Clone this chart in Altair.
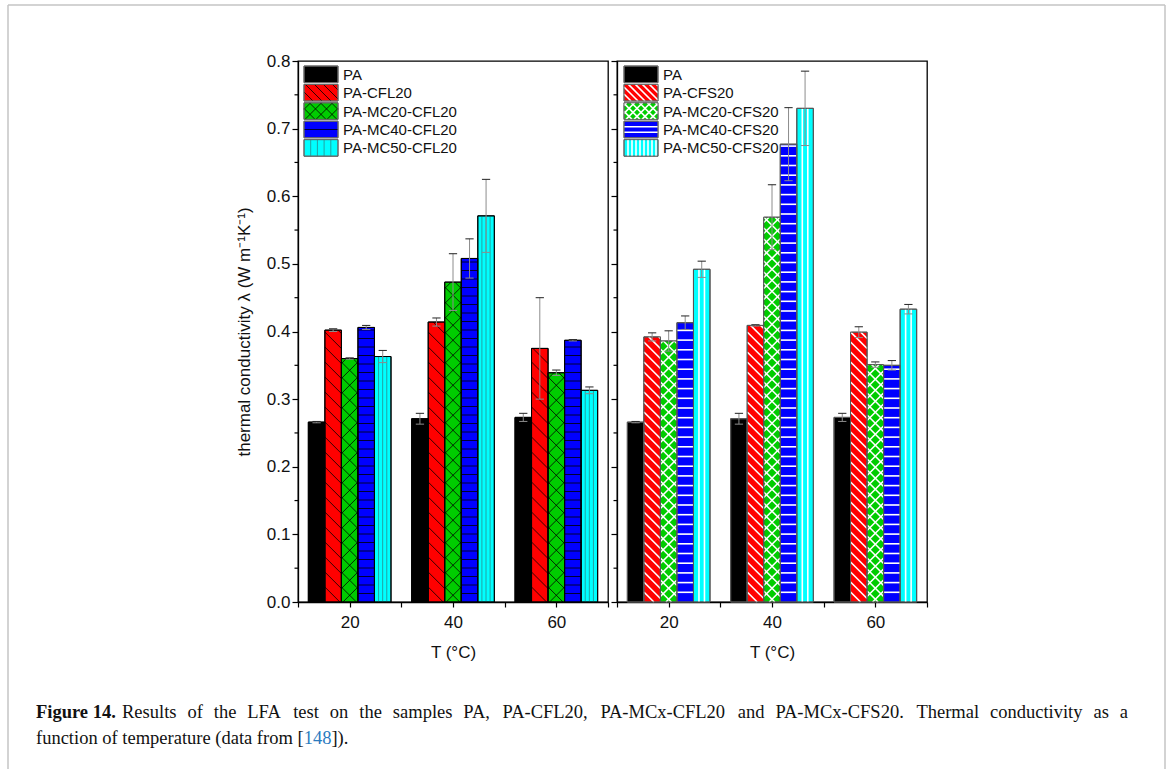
import altair as alt
import pandas as pd

# ---------------------------------------------------------------- data
temperatures = [20, 40, 60]

series_cfl = ["PA", "PA-CFL20", "PA-MC20-CFL20", "PA-MC40-CFL20", "PA-MC50-CFL20"]
series_cfs = ["PA", "PA-CFS20", "PA-MC20-CFS20", "PA-MC40-CFS20", "PA-MC50-CFS20"]

pa_mean = [0.266, 0.271, 0.273]
pa_err = [0.001, 0.008, 0.006]

cfl20_mean = [0.402, 0.414, 0.375]
cfl20_err = [0.002, 0.006, 0.075]
mc20_cfl20_mean = [0.360, 0.473, 0.339]
mc20_cfl20_err = [0.001, 0.042, 0.004]
mc40_cfl20_mean = [0.406, 0.508, 0.387]
mc40_cfl20_err = [0.003, 0.029, 0.001]
mc50_cfl20_mean = [0.363, 0.571, 0.313]
mc50_cfl20_err = [0.009, 0.054, 0.005]

cfs20_mean = [0.392, 0.409, 0.399]
cfs20_err = [0.006, 0.001, 0.008]
mc20_cfs20_mean = [0.386, 0.569, 0.351]
mc20_cfs20_err = [0.015, 0.048, 0.004]
mc40_cfs20_mean = [0.413, 0.677, 0.350]
mc40_cfs20_err = [0.010, 0.054, 0.007]
mc50_cfs20_mean = [0.492, 0.730, 0.433]
mc50_cfs20_err = [0.012, 0.055, 0.007]

y_ticks = [0.0, 0.1, 0.2, 0.3, 0.4, 0.5, 0.6, 0.7, 0.8]
y_minor_ticks = [0.05, 0.15, 0.25, 0.35, 0.45, 0.55, 0.65, 0.75]
x_ticks = [10, 20, 30, 40, 50, 60, 70]

caption_bold = "Figure 14."
caption_line1 = ("Results of the LFA test on the samples PA, PA-CFL20, PA-MCx-CFL20 and "
                 "PA-MCx-CFS20. Thermal conductivity as a")
caption_line2 = ["function of temperature (data from [", "148", "])."]

# ---------------------------------------------------------------- layout / style
W, H = 310, 541
X_DOMAIN = [10, 70]
Y_DOMAIN = [0.0, 0.8]
SX = W / (X_DOMAIN[1] - X_DOMAIN[0])   # px per degree
SY = H / (Y_DOMAIN[1] - Y_DOMAIN[0])   # px per unit of conductivity
BAR_W = 3.2                             # bar width in degrees
CAP_HALF = 0.8                          # half width of error caps in degrees
SANS = "Liberation Sans"
SERIF = "Liberation Serif"

COLORS = ["#000000", "#ff0000", "#00cc00", "#0000ff", "#00ffff"]
PATTERNS = [None, "back", "cross", "horiz", "vert"]

STYLE_CFL = dict(
    outline="#000000",
    line_colors=["#000000", "#000000", "#000000", "#000000", "#2a8c8c"],
    line_width=0.8,
    bar_steps=[0, 15, 15, 8.5, 4.1],
    legend_steps=[0, 9, 11, 8.3, 6.7],
    legend_x=6,
)
STYLE_CFS = dict(
    outline="#555555",
    line_colors=["#ffffff"] * 5,
    line_width=1.6,
    bar_steps=[0, 10, 11, 9.7, 5.5],
    legend_steps=[0, 7, 8, 5.5, 4],
    legend_x=7,
)

# advance widths of the serif caption face (units per em / 1000)
SERIF_W = {" ": 250, ",": 250, ".": 250, "-": 333, "(": 333, ")": 333, "[": 333, "]": 333}
SERIF_W.update({d: 500 for d in "0123456789"})
SERIF_W.update(dict(zip("ABCDEFGHIJKLMNOPQRSTUVWXYZ",
                        [722, 667, 667, 722, 611, 556, 722, 722, 333, 389, 722, 611, 889,
                         722, 722, 556, 722, 667, 556, 611, 722, 722, 944, 722, 722, 611])))
SERIF_W.update(dict(zip("abcdefghijklmnopqrstuvwxyz",
                        [444, 500, 444, 500, 444, 333, 500, 500, 278, 278, 500, 278, 778,
                         500, 500, 500, 500, 333, 389, 278, 500, 500, 722, 500, 500, 444])))


def serif_width(s, size):
    return sum(SERIF_W.get(ch, 500) for ch in s) * size / 1000.0


xs = alt.Scale(domain=X_DOMAIN, nice=False, zero=False)
ys = alt.Scale(domain=Y_DOMAIN, nice=False, zero=False)


def hatch_segments(kind, bw, bh, step):
    """Line segments (u0, h0, u1, h1) in local px of a bw x bh box, h measured upward."""
    segs = []
    if kind is None or step <= 0:
        return segs
    kinds = ["back", "fwd"] if kind == "cross" else [kind]
    for k in kinds:
        if k == "back":          # u + h = c
            c = step
            while c < bw + bh:
                u0, u1 = max(0.0, c - bh), min(bw, c)
                if u1 - u0 > 0.3:
                    segs.append((u0, c - u0, u1, c - u1))
                c += step
        elif k == "fwd":         # h - u = c
            c = -bw + step
            while c < bh:
                u0, u1 = max(0.0, -c), min(bw, bh - c)
                if u1 - u0 > 0.3:
                    segs.append((u0, u0 + c, u1, u1 + c))
                c += step
        elif k == "horiz":
            h = step
            while h < bh - 0.5:
                segs.append((0.0, h, bw, h))
                h += step
        elif k == "vert":
            u = step
            while u < bw - 0.5:
                segs.append((u, 0.0, u, bh))
                u += step
    return segs


def caption_layers(ox, oy):
    """Caption text below the panels; ox, oy = page position of the panel's plot origin."""
    one = pd.DataFrame({"k": [0]})
    size = 18.5
    base = dict(font=SERIF, fontSize=size, baseline="middle", align="left", color="#111111")
    out = [alt.Chart(one).mark_text(fontWeight="bold", **base).encode(
        x=alt.value(35 - ox), y=alt.value(712 - oy), text=alt.value(caption_bold))]
    # justified first line
    words = caption_line1.split(" ")
    widths = [serif_width(w, size) for w in words]
    start, end = 121, 1127
    gap = (end - start - sum(widths)) / (len(words) - 1)
    rows, x = [], start
    for w, wd in zip(words, widths):
        rows.append(dict(px=x - ox, word=w))
        x += wd + gap
    out.append(alt.Chart(pd.DataFrame(rows)).mark_text(**base).encode(
        x=alt.X("px:Q", scale=None, axis=None), y=alt.value(712 - oy), text="word:N"))
    # second line, reference number in link colour
    x = 35
    for i, part in enumerate(caption_line2):
        col = "#2b7bbf" if i == 1 else "#111111"
        out.append(alt.Chart(one).mark_text(**dict(base, color=col)).encode(
            x=alt.value(x - ox), y=alt.value(738 - oy), text=alt.value(part)))
        x += serif_width(part, size)
    return out


def build_panel(series, means, errs, style, left, origin):
    bar_rows, hatch_rows = [], []
    for i, name in enumerate(series):
        for j, t in enumerate(temperatures):
            c = t + (i - 2) * BAR_W
            m, e = means[i][j], errs[i][j]
            bar_rows.append(dict(series=name, mean=m, base=0.0, x0=c - BAR_W / 2, x1=c + BAR_W / 2,
                                 center=c, lo=m - e, hi=m + e, cap0=c - CAP_HALF, cap1=c + CAP_HALF,
                                 color=COLORS[i]))
            for (u0, h0, u1, h1) in hatch_segments(PATTERNS[i], BAR_W * SX, m * SY, style["bar_steps"][i]):
                x0 = c - BAR_W / 2
                hatch_rows.append(dict(xa=x0 + u0 / SX, ya=h0 / SY, xb=x0 + u1 / SX, yb=h1 / SY,
                                       lc=style["line_colors"][i]))
    bar_df = pd.DataFrame(bar_rows)
    hatch_df = pd.DataFrame(hatch_rows)

    # legend in pixel space (relative to the plot's top-left corner)
    lx, sw, sh, row, top0 = style["legend_x"], 34, 16.6, 18.4, 5
    leg_rows, leg_hatch, leg_text = [], [], []
    for i, name in enumerate(series):
        top = top0 + i * row
        leg_rows.append(dict(px0=lx, px1=lx + sw, py0=top, py1=top + sh, color=COLORS[i]))
        leg_text.append(dict(tx=lx + sw + 5, ty=top + sh / 2 + 0.5, label=name))
        for (u0, h0, u1, h1) in hatch_segments(PATTERNS[i], sw, sh, style["legend_steps"][i]):
            leg_hatch.append(dict(qa=lx + u0, ra=top + sh - h0, qb=lx + u1, rb=top + sh - h1,
                                  lc=style["line_colors"][i]))
    leg_df = pd.DataFrame(leg_rows)
    leg_hatch_df = pd.DataFrame(leg_hatch)
    leg_text_df = pd.DataFrame(leg_text)

    x_axis = alt.Axis(values=x_ticks, format="d",
                      labelExpr="datum.value % 20 === 0 ? datum.label : ''",
                      tickSize=5, labelPadding=7, labelFontSize=17, labelFont=SANS,
                      title="T (°C)", titleFontSize=17, titleFont=SANS, titleFontWeight="normal",
                      titlePadding=14, grid=False, labelColor="#111111", titleColor="#111111")
    if left:
        y_axis = alt.Axis(values=y_ticks, format=".1f", tickSize=6, labelPadding=2,
                          labelFontSize=17, labelFont=SANS, labelColor="#111111",
                          title="thermal conductivity  λ (W m⁻¹K⁻¹)", titleFontSize=17,
                          titleFont=SANS, titleFontWeight="normal", titleColor="#111111",
                          titlePadding=13, grid=False)
    else:
        y_axis = alt.Axis(values=y_ticks, labels=False, tickSize=6, title=None, grid=False)

    def X(f):
        return alt.X(f, scale=xs, axis=x_axis)

    def Y(f):
        return alt.Y(f, scale=ys, axis=y_axis)

    bars = alt.Chart(bar_df).mark_rect(stroke=style["outline"], strokeWidth=1).encode(
        x=X("x0:Q"), x2="x1", y=Y("mean:Q"), y2="base",
        color=alt.Color("color:N", scale=None),
    )
    hatch = alt.Chart(hatch_df).mark_rule(strokeWidth=style["line_width"]).encode(
        x=X("xa:Q"), x2="xb", y=Y("ya:Q"), y2="yb",
        color=alt.Color("lc:N", scale=None),
    )
    outline = alt.Chart(bar_df).mark_rect(fill=None, stroke=style["outline"], strokeWidth=1).encode(
        x=X("x0:Q"), x2="x1", y=Y("mean:Q"), y2="base",
    )
    err_line = alt.Chart(bar_df).mark_rule(color="#8c8c8c", strokeWidth=1).encode(
        x=X("center:Q"), y=Y("lo:Q"), y2="hi",
    )
    cap_top = alt.Chart(bar_df).mark_rule(color="#222222", strokeWidth=1).encode(
        x=X("cap0:Q"), x2="cap1", y=Y("hi:Q"),
    )
    cap_bot = alt.Chart(bar_df).mark_rule(color="#8c8c8c", strokeWidth=1).encode(
        x=X("cap0:Q"), x2="cap1", y=Y("lo:Q"),
    )
    minor = alt.Chart(pd.DataFrame({"v": y_minor_ticks})).mark_rule(color="black", strokeWidth=1.2).encode(
        x=alt.value(-3.5), x2=alt.value(0), y=Y("v:Q"),
    )
    leg_box = alt.Chart(leg_df).mark_rect(stroke="#666666", strokeWidth=1).encode(
        x=alt.X("px0:Q", scale=None, axis=None), x2="px1",
        y=alt.Y("py0:Q", scale=None, axis=None), y2="py1",
        color=alt.Color("color:N", scale=None),
    )
    leg_lines = alt.Chart(leg_hatch_df).mark_rule(strokeWidth=style["line_width"]).encode(
        x=alt.X("qa:Q", scale=None, axis=None), x2="qb",
        y=alt.Y("ra:Q", scale=None, axis=None), y2="rb",
        color=alt.Color("lc:N", scale=None),
    )
    leg_frame = alt.Chart(leg_df).mark_rect(fill=None, stroke="#666666", strokeWidth=1).encode(
        x=alt.X("px0:Q", scale=None, axis=None), x2="px1",
        y=alt.Y("py0:Q", scale=None, axis=None), y2="py1",
    )
    leg_lbl = alt.Chart(leg_text_df).mark_text(align="left", baseline="middle", font=SANS,
                                               fontSize=15, color="#111111").encode(
        x=alt.X("tx:Q", scale=None, axis=None),
        y=alt.Y("ty:Q", scale=None, axis=None),
        text="label:N",
    )
    layers = [bars, hatch, outline, err_line, cap_bot, cap_top, minor,
              leg_box, leg_lines, leg_frame, leg_lbl]

    if left:
        ox, oy = origin
        one = pd.DataFrame({"k": [0]})
        frame_color = "#c4c4c4"
        # figure frame (left, top, right edges)
        layers.append(alt.Chart(one).mark_rule(color=frame_color, strokeWidth=1.5).encode(
            x=alt.value(7 - ox), y=alt.value(5 - oy), y2=alt.value(769 - oy)))
        layers.append(alt.Chart(one).mark_rule(color=frame_color, strokeWidth=1.5).encode(
            x=alt.value(7 - ox), x2=alt.value(1164 - ox), y=alt.value(5 - oy)))
        layers.append(alt.Chart(one).mark_rule(color=frame_color, strokeWidth=1.5).encode(
            x=alt.value(1164 - ox), y=alt.value(5 - oy), y2=alt.value(769 - oy)))
        layers += caption_layers(ox, oy)

    return alt.layer(*layers).properties(width=W, height=H)


means_cfl = [pa_mean, cfl20_mean, mc20_cfl20_mean, mc40_cfl20_mean, mc50_cfl20_mean]
errs_cfl = [pa_err, cfl20_err, mc20_cfl20_err, mc40_cfl20_err, mc50_cfl20_err]
means_cfs = [pa_mean, cfs20_mean, mc20_cfs20_mean, mc40_cfs20_mean, mc50_cfs20_mean]
errs_cfs = [pa_err, cfs20_err, mc20_cfs20_err, mc40_cfs20_err, mc50_cfs20_err]

PLOT_ORIGIN = (297, 61)
left_panel = build_panel(series_cfl, means_cfl, errs_cfl, STYLE_CFL, left=True, origin=PLOT_ORIGIN)
right_panel = build_panel(series_cfs, means_cfs, errs_cfs, STYLE_CFS, left=False, origin=PLOT_ORIGIN)

chart = alt.hconcat(left_panel, right_panel, spacing=9, bounds="flush").properties(
    padding={"left": 6, "top": 3, "right": 0, "bottom": 0},
    background="white",
).configure_view(
    stroke="black", strokeWidth=1.3,
).configure_axis(
    domainColor="black", domainWidth=1.3, tickColor="black", tickWidth=1.2,
)

chart.save("out.html", embed_options={"renderer": "svg", "actions": False})
